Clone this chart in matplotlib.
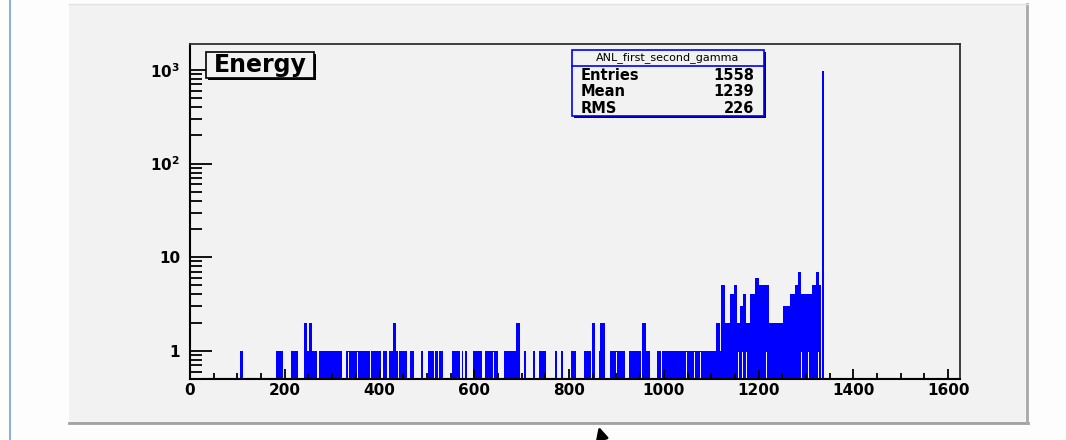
import matplotlib
matplotlib.use('Agg')
import matplotlib.pyplot as plt
from matplotlib.patches import Rectangle
from matplotlib.lines import Line2D
from matplotlib.ticker import FixedLocator, LogLocator, MultipleLocator, NullFormatter

W, H = 1066, 440
BLUE = '#0000ff'
PANEL = '#f2f2f2'
YMIN, YMAX = 0.5, 1870
XMIN, XMAX = 0, 1625

# histogram content: runs of bins (low edge, high edge, counts)
bin_lo = [105, 181, 213, 240, 246, 252, 257, 273, 298, 330, 381, 408, 420, 428,
          435, 441, 464, 487, 502, 516, 525, 552, 573, 581, 598, 622, 663, 689,
          704, 724, 736, 770, 782, 804, 832, 849, 864, 866, 887, 927, 954, 963,
          986, 997, 1111, 1118, 1120, 1129, 1140, 1147, 1155, 1161, 1166, 1173,
          1182, 1193, 1200, 1222, 1251, 1267, 1277, 1284, 1290, 1313, 1321, 1328,
          1333]
bin_hi = [111, 196, 228, 246, 252, 257, 269, 297, 321, 380, 404, 415, 428, 435,
          439, 459, 473, 492, 514, 523, 533, 570, 577, 585, 616, 651, 689, 697,
          709, 728, 751, 775, 788, 814, 846, 855, 866, 875, 918, 951, 963, 971,
          994, 1111, 1118, 1120, 1129, 1140, 1147, 1155, 1161, 1166, 1173, 1182,
          1193, 1200, 1222, 1251, 1267, 1277, 1284, 1290, 1313, 1321, 1328, 1332,
          1339]
bin_counts = [1, 1, 1, 2, 1, 2, 1, 1, 1, 1, 1, 1, 1, 2,
              1, 1, 1, 1, 1, 1, 1, 1, 1, 1, 1, 1, 1, 2,
              1, 1, 1, 1, 1, 1, 1, 2, 1, 2, 1, 1, 2, 1,
              1, 1, 2, 1, 5, 2, 4, 5, 2, 3, 4, 2,
              4, 6, 5, 2, 3, 4, 5, 7, 4, 5, 7, 5,
              985]
# empty bins that show through inside the dense runs
gap_energies = [335, 354, 640, 900, 1032, 1048, 1064, 1077, 1106, 1148, 1158,
                1166, 1174, 1188, 1203, 1217, 1226, 1243, 1262, 1277, 1290,
                1306, 1326]

stat_title = 'ANL_first_second_gamma'
stat_names = ['Entries', 'Mean', 'RMS']
stat_values = ['1558', '1239', '226']
x_ticks = [0, 200, 400, 600, 800, 1000, 1200, 1400, 1600]
y_ticks = [1, 10, 100, 1000]
y_labels = ['1', '10', r'$\mathbf{10^{2}}$', r'$\mathbf{10^{3}}$']


def box(x0, y0, x1, y1):
    # pixel box (top-left origin) -> figure fraction rectangle args
    return (x0 / W, 1 - y1 / H), (x1 - x0) / W, (y1 - y0) / H


plt.rcParams['font.family'] = ['DejaVu Sans']
plt.rcParams['font.weight'] = 'bold'
plt.rcParams['mathtext.default'] = 'bf'

fig = plt.figure(figsize=(W / 100, H / 100), dpi=100, facecolor='#fdfdfd')

# canvas pad
xy, w, h = box(69, 4, 1028, 423)
fig.add_artist(Rectangle(xy, w, h, transform=fig.transFigure,
                         facecolor=PANEL, edgecolor='none', zorder=0))
fig.add_artist(Line2D([69 / W, 1028 / W], [1 - 423 / H] * 2,
                      transform=fig.transFigure, color='#a0a0a0', lw=2))
fig.add_artist(Line2D([1027 / W] * 2, [1 - 4 / H, 1 - 423 / H],
                      transform=fig.transFigure, color='#a8a8a8', lw=2))
fig.add_artist(Line2D([69 / W, 1028 / W], [1 - 4 / H] * 2,
                      transform=fig.transFigure, color='#e2e2e2', lw=1))
fig.add_artist(Line2D([10 / W] * 2, [0, 1],
                      transform=fig.transFigure, color='#8eb0da', lw=1.5))

ax = fig.add_axes([190 / W, 1 - 379 / H, 770 / W, 334.5 / H])
ax.set_facecolor(PANEL)
ax.set_yscale('log')
ax.set_xlim(XMIN, XMAX)
ax.set_ylim(YMIN, YMAX)
ax.set_axisbelow(False)

widths = [b - a for a, b in zip(bin_lo, bin_hi)]
heights = [c - YMIN for c in bin_counts]
ax.bar(bin_lo, heights, width=widths, bottom=YMIN, align='edge',
       color=BLUE, linewidth=0, zorder=1)
ax.bar(gap_energies, [0.96 - YMIN] * len(gap_energies), width=1.6,
       bottom=YMIN, color=PANEL, linewidth=0, zorder=1.2)
ax.hlines(0.505, 25, XMAX, color=BLUE, lw=2.2, zorder=1.4)

# axes and ticks, ROOT style
for side in ['left', 'bottom']:
    ax.spines[side].set_linewidth(1.5)
    ax.spines[side].set_color('black')
for side in ['top', 'right']:
    ax.spines[side].set_linewidth(1.3)
    ax.spines[side].set_color('#303030')

ax.xaxis.set_major_locator(FixedLocator(x_ticks))
ax.xaxis.set_minor_locator(MultipleLocator(50))
ax.set_xticklabels([str(t) for t in x_ticks])
ax.yaxis.set_major_locator(FixedLocator(y_ticks))
ax.yaxis.set_minor_locator(LogLocator(base=10, subs=range(2, 10)))
ax.yaxis.set_minor_formatter(NullFormatter())
ax.set_yticklabels(y_labels)

ax.tick_params(axis='x', which='major', direction='in', length=7, width=1.3,
               pad=3, labelsize=11)
ax.tick_params(axis='x', which='minor', direction='in', length=4, width=1.3)
ax.tick_params(axis='y', which='major', direction='in', length=16, width=1.3,
               pad=7, labelsize=11)
ax.tick_params(axis='y', which='minor', direction='in', length=8.5, width=1.3)

# title box with shadow
xy, w, h = box(208, 54, 316, 80)
fig.add_artist(Rectangle(xy, w, h, transform=fig.transFigure,
                         facecolor='black', edgecolor='none', zorder=5))
xy, w, h = box(206, 52, 314, 78)
fig.add_artist(Rectangle(xy, w, h, transform=fig.transFigure,
                         facecolor=PANEL, edgecolor='black', lw=1.2, zorder=6))
fig.text(260 / W, 1 - 65 / H, 'Energy', ha='center', va='center',
         fontsize=17, fontweight='bold', zorder=7)

# statistics box with shadow
xy, w, h = box(574, 52, 766, 118)
fig.add_artist(Rectangle(xy, w, h, transform=fig.transFigure,
                         facecolor='black', edgecolor='none', zorder=5))
xy, w, h = box(572, 50, 764, 116)
fig.add_artist(Rectangle(xy, w, h, transform=fig.transFigure,
                         facecolor=PANEL, edgecolor=BLUE, lw=1.2, zorder=6))
fig.add_artist(Line2D([572 / W, 764 / W], [1 - 66.5 / H] * 2,
                      transform=fig.transFigure, color=BLUE, lw=1.2, zorder=7))
fig.text(668 / W, 1 - 58 / H, stat_title, ha='center', va='center',
         fontsize=8, fontweight='normal', zorder=7)
for i, (name, val) in enumerate(zip(stat_names, stat_values)):
    yy = 1 - (75.5 + 16.3 * i) / H
    fig.text(581 / W, yy, name, ha='left', va='center', fontsize=10.5,
             fontweight='bold', zorder=7)
    fig.text(754 / W, yy, val, ha='right', va='center', fontsize=10.5,
             fontweight='bold', zorder=7)

# mouse pointer at the bottom edge
fig.add_artist(plt.Annotation('', xy=(598 / W, 1 - 424 / H),
                              xytext=(603 / W, 1 - 442 / H),
                              xycoords='figure fraction',
                              arrowprops=dict(arrowstyle='-|>', color='black',
                                              lw=2, mutation_scale=18)))

plt.savefig('out.png', dpi=100, facecolor=fig.get_facecolor())
